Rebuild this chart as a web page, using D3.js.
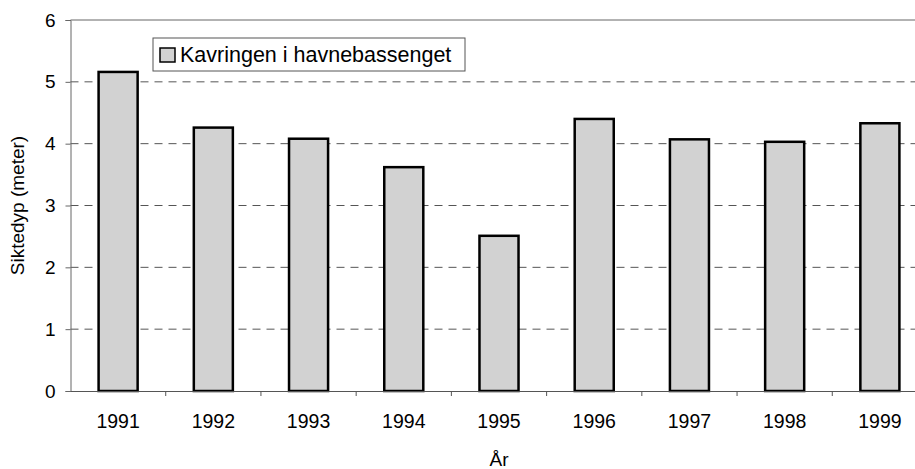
<!DOCTYPE html>
<html>
<head>
<meta charset="utf-8">
<script src="https://cdn.jsdelivr.net/npm/d3@7"></script>
<style>
  body { margin: 0; background: #fff; }
  text { font-family: "Liberation Sans", Arial, sans-serif; fill: #000; }
</style>
</head>
<body>
<div id="chart"></div>
<script>
var years = ["1991", "1992", "1993", "1994", "1995", "1996", "1997", "1998", "1999"];
var siktedyp = [5.16, 4.26, 4.08, 3.62, 2.51, 4.40, 4.07, 4.03, 4.33];
var yTicks = [0, 1, 2, 3, 4, 5, 6];
var seriesName = "Kavringen i havnebassenget";

var width = 915, height = 469;
var plotLeft = 70.5, plotRight = 927.5, plotTop = 20, plotBottom = 391;

var svg = d3.select("#chart").append("svg").attr("width", width).attr("height", height);

var x = d3.scaleBand().domain(years).range([plotLeft, plotRight]).paddingInner(0.59).paddingOuter(0.295);
var xTick = d3.scaleBand().domain(years).range([plotLeft, plotRight]);
var y = d3.scaleLinear().domain([0, 6]).range([plotBottom, plotTop]);

// gridlines
svg.append("g").selectAll("line").data(yTicks.filter(function(d){ return d > 0 && d < 6; }))
  .enter().append("line")
  .attr("x1", plotLeft).attr("x2", plotRight)
  .attr("y1", function(d){ return y(d); }).attr("y2", function(d){ return y(d); })
  .style("stroke", "#555").style("stroke-width", 1).style("stroke-dasharray", "8,6");

// top border
svg.append("line").attr("x1", plotLeft).attr("x2", plotRight).attr("y1", y(6)).attr("y2", y(6))
  .style("stroke", "#666").style("stroke-width", 1);

// bars
svg.append("g").selectAll("rect").data(siktedyp).enter().append("rect")
  .attr("x", function(d, i){ return x(years[i]); })
  .attr("width", x.bandwidth())
  .attr("y", function(d){ return y(d); })
  .attr("height", function(d){ return y(0) - y(d); })
  .style("fill", "#d2d2d2").style("stroke", "#000").style("stroke-width", 2.5);

// y axis
var yAxis = svg.append("g").attr("transform", "translate(" + plotLeft + ",0)")
  .call(d3.axisLeft(y).tickValues(yTicks).tickSize(5).tickPadding(10).tickFormat(d3.format("d")));
yAxis.select(".domain").style("stroke", "#666");
yAxis.selectAll(".tick line").style("stroke", "#666");
yAxis.selectAll("text").style("font-size", "19px");

// x axis
var xAxis = svg.append("g").attr("transform", "translate(0," + plotBottom + ")")
  .call(d3.axisBottom(xTick).tickSize(0).tickPadding(23));
xAxis.select(".domain").style("stroke", "#555");
xAxis.selectAll("text").style("font-size", "19.5px");
xAxis.selectAll(".sep").data(years.slice(1)).enter().append("line").attr("class", "sep")
  .attr("x1", function(d){ return xTick(d); }).attr("x2", function(d){ return xTick(d); })
  .attr("y1", 0).attr("y2", 5).style("stroke", "#555");

// axis titles
svg.append("text").attr("x", (plotLeft + plotRight) / 2).attr("y", 466)
  .attr("text-anchor", "middle").style("font-size", "19px").text("År");
svg.append("text").attr("transform", "translate(24," + ((plotTop + plotBottom) / 2) + ") rotate(-90)")
  .attr("text-anchor", "middle").style("font-size", "19px").text("Siktedyp (meter)");

// legend
var lg = svg.append("g");
lg.append("rect").attr("x", 153).attr("y", 38).attr("width", 312).attr("height", 33)
  .style("fill", "#fff").style("stroke", "#555").style("stroke-width", 1);
lg.append("rect").attr("x", 160).attr("y", 48).attr("width", 15).attr("height", 14)
  .style("fill", "#d2d2d2").style("stroke", "#000").style("stroke-width", 1.5);
lg.append("text").attr("x", 180).attr("y", 62).style("font-size", "21.5px").text(seriesName);
</script>
</body>
</html>
